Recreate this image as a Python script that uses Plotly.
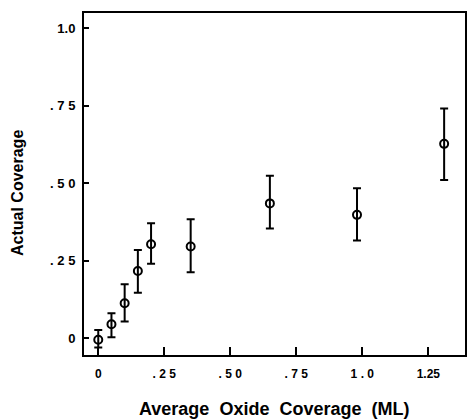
import plotly.graph_objects as go

# Data
oxide_coverage = [0.0, 0.05, 0.10, 0.15, 0.20, 0.35, 0.65, 0.98, 1.31]
actual_coverage = [-0.005, 0.045, 0.113, 0.217, 0.303, 0.296, 0.435, 0.398, 0.627]
err_plus = [0.032, 0.036, 0.061, 0.068, 0.068, 0.088, 0.089, 0.086, 0.114]
err_minus = [0.025, 0.042, 0.059, 0.070, 0.063, 0.083, 0.081, 0.083, 0.117]

x_tickvals = [0, 0.25, 0.5, 0.75, 1.0, 1.25]
x_ticktext = ["0", ". 2 5", ". 5 0", ". 7 5", "1 . 0", "1.25"]
y_tickvals = [0, 0.25, 0.5, 0.75, 1.0]
y_ticktext = ["0", ". 2 5", ". 5 0", ". 7 5", "1.0"]

fig = go.Figure()
fig.add_trace(go.Scatter(
    x=oxide_coverage, y=actual_coverage, mode="markers",
    marker=dict(symbol="circle-open", size=8, color="black", line=dict(width=2, color="black")),
    error_y=dict(type="data", symmetric=False, array=err_plus, arrayminus=err_minus,
                 color="black", thickness=2, width=4),
    showlegend=False,
))

font_family = "Liberation Sans, Arial, sans-serif"
fig.update_layout(
    width=471, height=419,
    margin=dict(l=84, r=6, t=13, b=64, autoexpand=False),
    paper_bgcolor="white", plot_bgcolor="white",
    font=dict(family=font_family, color="black"),
    annotations=[
        dict(text="<b>Average  Oxide  Coverage  (ML)</b>", xref="paper", yref="paper",
             x=0.499, y=-0.158, xanchor="center", yanchor="middle", showarrow=False,
             font=dict(size=18, family=font_family, color="black")),
        dict(text="<b>Actual Coverage</b>", xref="paper", yref="paper",
             x=-0.173, y=0.474, xanchor="center", yanchor="middle", showarrow=False,
             textangle=-90, font=dict(size=16, family=font_family, color="black")),
    ],
)
fig.update_xaxes(
    range=[-0.054, 1.389], tickvals=x_tickvals, ticktext=x_ticktext,
    ticks="inside", ticklen=8, tickwidth=2, tickcolor="black",
    showline=True, linewidth=2, linecolor="black", mirror=True,
    showgrid=False, zeroline=False, automargin=False,
    tickfont=dict(size=12, family=font_family, weight="bold"),
    ticklabelstandoff=7,
)
fig.update_yaxes(
    range=[-0.054, 1.049], tickvals=y_tickvals, ticktext=y_ticktext,
    ticks="inside", ticklen=5, tickwidth=2, tickcolor="black",
    showline=True, linewidth=2, linecolor="black", mirror=True,
    showgrid=False, zeroline=False, automargin=False,
    tickfont=dict(size=13, family=font_family, weight="bold"),
    ticklabelstandoff=4,
)

fig.write_html(
    "out.html",
    config={"displayModeBar": False},
    post_script="document.body.style.margin='0';document.body.style.overflow='hidden';",
)
